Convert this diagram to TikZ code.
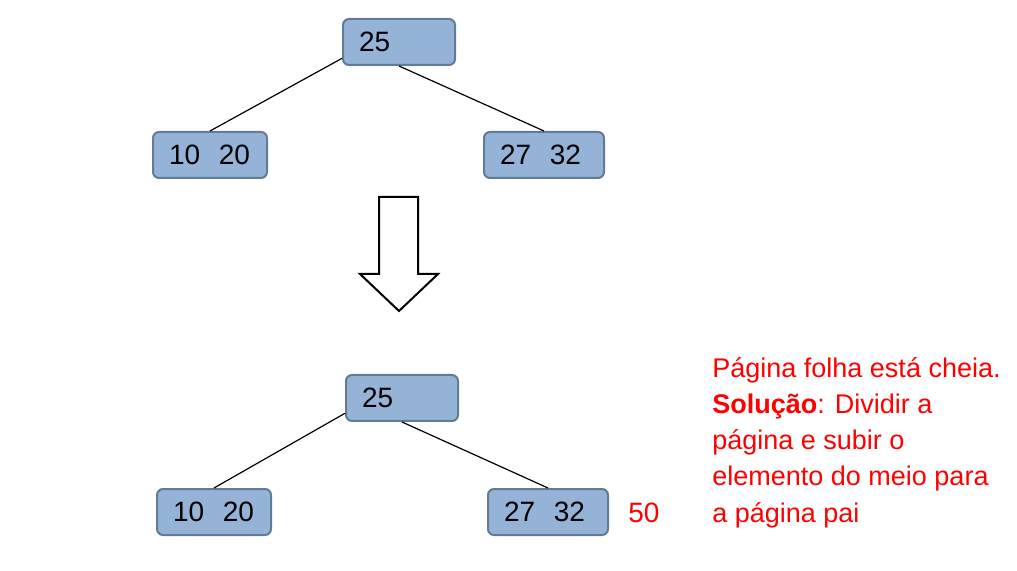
\documentclass[tikz,border=0pt]{standalone}
\usepackage{fontspec}
\setmainfont{Liberation Sans}
\usetikzlibrary{positioning}

\definecolor{pagefill}{RGB}{149,179,215}
\definecolor{pageline}{RGB}{99,124,150}

\tikzset{
  pagina/.style={rectangle, rounded corners=3pt, draw=pageline, fill=pagefill,
    line width=1pt, minimum height=23pt, inner xsep=8pt, inner ysep=0pt,
    text width=#1, align=left, font=\fontsize{14}{16}\selectfont},
  pagina/.default=40pt,
  ramo/.style={line width=0.6pt}
}

\begin{document}
\begin{tikzpicture}[x=0.5pt, y=-0.5pt]
      \useasboundingbox (0,0) rectangle (1017,571);

      % antes
      \node[pagina] (raiz) at (399, 42) {25};
      \node[pagina=41pt] (esq) [below left = 32.5pt and 37pt of raiz] {10~~20};
      \node[pagina=44pt] (dir) [below right = 32.5pt and 13.5pt of raiz] {27~~32};

      \draw[ramo] (raiz.196) -- (esq.north);
      \draw[ramo] (raiz.south) -- (dir.north);

      % seta
      \draw[line width=1pt, line join=miter] (379,197) -- (418,197) -- (418,274) -- (438,274)
        -- (399,311) -- (360,274) -- (379,274) -- cycle;

      % depois
      \node[pagina] (raizB) at (402, 398) {25};
      \node[pagina=41pt] (esqB) [below left = 33pt and 36.5pt of raizB] {10~~20};
      \node[pagina=44pt] (dirB) [below right = 33pt and 14pt of raizB] {27~~32};

      \draw[ramo] (raizB.195) -- (esqB.north);
      \draw[ramo] (raizB.south) -- (dirB.north);

      \node[red, anchor=base west, inner sep=0pt, font=\fontsize{14}{16}\selectfont]
        (novo) at (628, 522) {50};
      \node[red, anchor=north west, inner sep=0pt, align=left,
        font=\fontsize{13.5}{18.1}\selectfont] (nota) at (712, 357)
        {Página folha está cheia.\\ \textbf{Solução}: Dividir a\\ página e subir o\\
         elemento do meio para\\ a página pai};
\end{tikzpicture}
\end{document}
